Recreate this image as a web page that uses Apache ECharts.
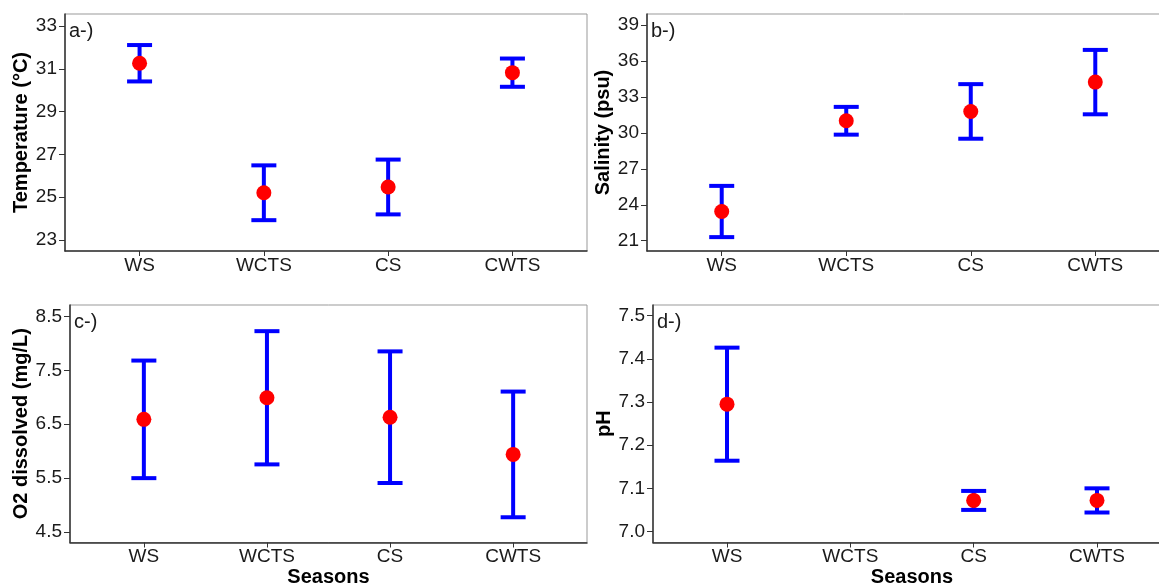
<!DOCTYPE html>
<html>
<head>
<meta charset="utf-8">
<script src="https://cdn.jsdelivr.net/npm/echarts@6/dist/echarts.min.js"></script>
<style>
  html, body { margin: 0; padding: 0; background: #fff; }
  #main { width: 1159px; height: 583px; }
</style>
</head>
<body>
<div id="main"></div>
<script>
    // data: mean and half-width of the error bar
    var seasons = ['WS', 'WCTS', 'CS', 'CWTS'];
    var tempMean = [31.26, 25.21, 25.48, 30.82];
    var tempErr = [0.85, 1.28, 1.28, 0.66];
    var salMean = [23.44, 31.02, 31.8, 34.25];
    var salErr = [2.14, 1.16, 2.28, 2.69];
    var o2Mean = [6.59, 6.99, 6.63, 5.94];
    var o2Err = [1.09, 1.235, 1.22, 1.165];
    var phMean = [7.295, null, 7.072, 7.072];
    var phErr = [0.131, null, 0.022, 0.028];

    var tempTicks = [23, 25, 27, 29, 31, 33];
    var salTicks = [21, 24, 27, 30, 33, 36, 39];
    var o2Ticks = [4.5, 5.5, 6.5, 7.5, 8.5];
    var phTicks = [7.0, 7.1, 7.2, 7.3, 7.4, 7.5];

    var font = "'Liberation Sans', Arial, sans-serif";
    var myChart = echarts.init(document.getElementById('main'));

    function points(mean) {
        var out = [];
        mean.forEach(function (m, i) { if (m !== null) out.push([i + 1, m]); });
        return out;
    }
    function bars(mean, err) {
        var out = [];
        mean.forEach(function (m, i) {
            if (m !== null) out.push([i + 1, m - err[i], m + err[i]]);
        });
        return out;
    }

    function renderBar(params, api) {
        var x = api.value(0);
        var top = api.coord([x, api.value(2)]);
        var bot = api.coord([x, api.value(1)]);
        var hw = 12.5;
        var st = { stroke: '#0000ff', lineWidth: 4 };
        return {
            type: 'group',
            children: [
                { type: 'line', shape: { x1: top[0], y1: top[1], x2: bot[0], y2: bot[1] }, style: st },
                { type: 'line', shape: { x1: top[0] - hw, y1: top[1], x2: top[0] + hw, y2: top[1] }, style: st },
                { type: 'line', shape: { x1: bot[0] - hw, y1: bot[1], x2: bot[0] + hw, y2: bot[1] }, style: st }
            ]
        };
    }

    function xAxis(idx, withName) {
        return {
            type: 'value', gridIndex: idx, min: 0.4, max: 4.6,
            name: withName ? 'Seasons' : '',
            nameLocation: 'middle', nameGap: 24,
            nameTextStyle: { fontFamily: font, fontSize: 20, fontWeight: 'bold', color: '#000' },
            splitLine: { show: false },
            axisLine: { show: true, lineStyle: { color: '#333', width: 1.5 } },
            axisTick: { show: true, length: 5, customValues: [1, 2, 3, 4], lineStyle: { color: '#333' } },
            axisLabel: {
                customValues: [1, 2, 3, 4], margin: 5,
                fontFamily: font, fontSize: 19, color: '#1a1a1a',
                formatter: function (v) { return seasons[Math.round(v) - 1]; }
            }
        };
    }

    function yAxis(idx, name, min, max, ticks, dec, gap) {
        return {
            type: 'value', gridIndex: idx, min: min, max: max,
            name: name, nameLocation: 'middle', nameGap: gap, nameRotate: 90,
            nameTextStyle: { fontFamily: font, fontSize: 20, fontWeight: 'bold', color: '#000' },
            splitLine: { show: false },
            axisLine: { show: true, lineStyle: { color: '#333', width: 1.5 } },
            axisTick: { show: true, length: 6, customValues: ticks, lineStyle: { color: '#333' } },
            axisLabel: {
                customValues: ticks, margin: 8,
                fontFamily: font, fontSize: 19, color: '#1a1a1a',
                formatter: function (v) { return v.toFixed(dec); }
            }
        };
    }

    var gridStyle = {
        show: true, borderColor: '#999', borderWidth: 1, backgroundColor: '#fff',
        containLabel: false, outerBoundsMode: 'none'
    };

    var option = {
        animation: false,
        backgroundColor: '#fff',
        title: [
            { text: 'a-)', left: 64, top: 16 },
            { text: 'b-)', left: 646, top: 16 },
            { text: 'c-)', left: 69, top: 307 },
            { text: 'd-)', left: 652, top: 307 }
        ].map(function (t) {
            t.textStyle = { fontFamily: font, fontSize: 20, fontWeight: 'normal', color: '#1a1a1a' };
            return t;
        }),
        grid: [
            Object.assign({ left: 65, top: 14, width: 522, height: 237 }, gridStyle),
            Object.assign({ left: 647, top: 14, width: 523, height: 237 }, gridStyle),
            Object.assign({ left: 70, top: 305, width: 517, height: 237.5 }, gridStyle),
            Object.assign({ left: 653, top: 305, width: 518, height: 237.5 }, gridStyle)
        ],
        xAxis: [xAxis(0, false), xAxis(1, false), xAxis(2, true), xAxis(3, true)],
        yAxis: [
            yAxis(0, 'Temperature (°C)', 22.49, 33.56, tempTicks, 0, 33),
            yAxis(1, 'Salinity (psu)', 20.14, 39.94, salTicks, 0, 33),
            yAxis(2, 'O2 dissolved (mg/L)', 4.307, 8.71, o2Ticks, 1, 38),
            yAxis(3, 'pH', 6.9745, 7.5248, phTicks, 1, 38)
        ],
        series: []
    };

    [[tempMean, tempErr], [salMean, salErr], [o2Mean, o2Err], [phMean, phErr]].forEach(function (d, i) {
        option.series.push({
            type: 'custom', xAxisIndex: i, yAxisIndex: i,
            renderItem: renderBar, data: bars(d[0], d[1]), z: 2
        });
        option.series.push({
            type: 'scatter', xAxisIndex: i, yAxisIndex: i,
            data: points(d[0]), symbolSize: 15,
            itemStyle: { color: '#ff0000', opacity: 1 }, z: 3
        });
    });

    option && myChart.setOption(option);
</script>
</body>
</html>
